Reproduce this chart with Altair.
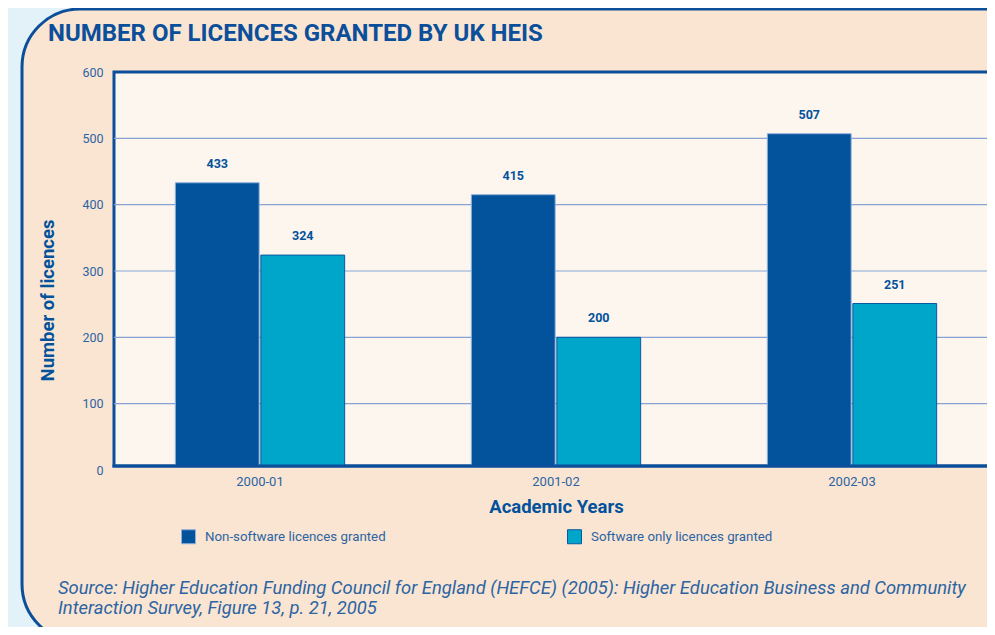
import altair as alt
import pandas as pd

years = ["2000-01", "2001-02", "2002-03"]
series_names = ["Non-software licences granted", "Software only licences granted"]
non_software = [433, 415, 507]
software_only = [324, 200, 251]
y_ticks = [0, 100, 200, 300, 400, 500, 600]
grid_values = [100, 200, 300, 400, 500]
title_text = "NUMBER OF LICENCES GRANTED BY UK HEIS"
source_lines = [
    "Source: Higher Education Funding Council for England (HEFCE) (2005):  Higher Education Business and Community",
    "Interaction Survey, Figure 13, p. 21, 2005",
]

rows = []
for i, yr in enumerate(years):
    rows.append({"year": yr, "series": series_names[0], "value": non_software[i]})
    rows.append({"year": yr, "series": series_names[1], "value": software_only[i]})
df = pd.DataFrame(rows)

FONT = "Roboto"
DARK = "#02529c"
CYAN = "#00a6c9"
TEXT = "#2c64a3"
BORDER = "#0b4f9b"

W, H = 873, 394

x_scale = alt.Scale(domain=years, paddingInner=0.428, paddingOuter=0.214, range=[-2, 886])
y_scale = alt.Scale(domain=[0, 600], nice=False, range=[398, 0])
off_scale = alt.Scale(paddingInner=0.02)

y_axis = alt.Axis(
    values=y_ticks, title="Number of licences", domain=False, ticks=False, grid=False,
    labelPadding=11, labelFont=FONT, labelFontSize=12.5, labelColor=TEXT,
    titleFont=FONT, titleFontSize=18.5, titleFontWeight="bold", titleColor=DARK,
    titleX=-67, titleY=228, titleAngle=-90, titleAlign="center", titleBaseline="middle",
    zindex=1,
)
x_axis = alt.Axis(
    title="Academic Years", labelAngle=0, domain=False, ticks=False, grid=False,
    labelPadding=9, labelFont=FONT, labelFontSize=13, labelColor=TEXT,
    titleFont=FONT, titleFontSize=18.5, titleFontWeight="bold", titleColor=DARK,
    titlePadding=9, zindex=1,
)

one = pd.DataFrame({"k": [0]})

panel = alt.Chart(one).mark_rect(
    fill="#f9e5d2", stroke=BORDER, strokeWidth=3, cornerRadius=58
).encode(x=alt.value(-92), x2=alt.value(1000), y=alt.value(-63), y2=alt.value(570))

plotbg = alt.Chart(one).mark_rect(
    fill="#fdf6ef", stroke=BORDER, strokeWidth=3
).encode(x=alt.value(0), x2=alt.value(W + 20), y=alt.value(0), y2=alt.value(H))

grid = alt.Chart(pd.DataFrame({"g": grid_values})).mark_rule(
    color="#86a3d4", strokeWidth=1.2
).encode(y=alt.Y("g:Q", scale=y_scale, axis=y_axis))

bars = alt.Chart(df).mark_bar(strokeWidth=1, clip=True).encode(
    x=alt.X("year:N", scale=x_scale, sort=years, axis=x_axis),
    xOffset=alt.XOffset("series:N", sort=series_names, scale=off_scale),
    y=alt.Y("value:Q", scale=y_scale, axis=y_axis),
    color=alt.Color(
        "series:N",
        scale=alt.Scale(domain=series_names, range=[DARK, CYAN]),
        legend=alt.Legend(
            title=None, orient="none", legendX=67, legendY=457, direction="horizontal",
            symbolType="square", symbolSize=196, symbolStrokeColor=BORDER, symbolStrokeWidth=1,
            labelFont=FONT, labelFontSize=13.3, labelColor=TEXT, labelOffset=9,
            labelLimit=400, columnPadding=179, symbolOpacity=1,
        ),
    ),
    stroke=alt.Stroke(
        "series:N", scale=alt.Scale(domain=series_names, range=["#8fb0dc", "#0a58a0"]), legend=None
    ),
)

baseline_rule = alt.Chart(one).mark_rule(color=BORDER, strokeWidth=3).encode(
    x=alt.value(-1.5), x2=alt.value(W + 20), y=alt.value(H)
)

labels = alt.Chart(df).mark_text(
    font=FONT, fontSize=12.5, fontWeight="bold", color=DARK, baseline="bottom", dy=-12
).encode(
    x=alt.X("year:N", scale=x_scale, sort=years),
    xOffset=alt.XOffset("series:N", sort=series_names, scale=off_scale),
    y=alt.Y("value:Q", scale=y_scale),
    text="value:Q",
)

title_mark = alt.Chart(one).mark_text(
    font=FONT, fontSize=24, fontWeight="bold", color=BORDER, align="left", baseline="middle"
).encode(x=alt.value(-66), y=alt.value(-38), text=alt.value(title_text))

source = alt.Chart(one).mark_text(
    font=FONT, fontSize=18.4, fontStyle="italic", color=TEXT, align="left",
    baseline="middle", lineHeight=20,
).encode(x=alt.value(-56), y=alt.value(516), text=alt.value(source_lines))

chart = alt.layer(
    panel, plotbg, grid, bars, baseline_rule, labels, title_mark, source
).properties(
    width=W, height=H,
    padding={"left": 106, "top": 64, "right": 0, "bottom": 161},
    autosize=alt.AutoSizeParams(type="none"),
    background="#e3f2f9",
).configure_view(stroke=None)

chart.save("out.html", embed_options={"renderer": "svg", "actions": False})
